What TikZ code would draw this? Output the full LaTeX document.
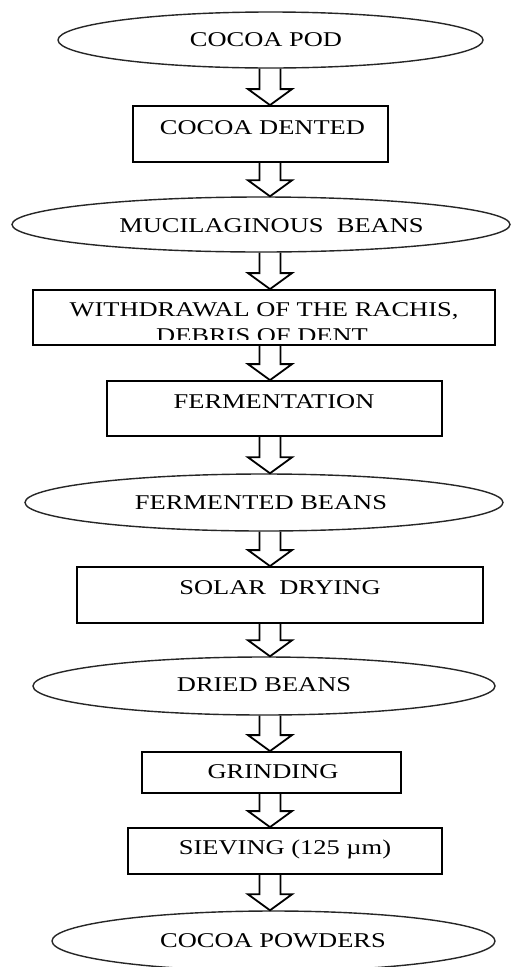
\documentclass[tikz,border=0pt]{standalone}
\usepackage{fontspec}
\setmainfont{Liberation Serif}
\usepackage{graphicx}
\usetikzlibrary{shapes.geometric,calc}
\newcommand\wtext[1]{\scalebox{1.26}[1]{#1}}
\newcommand\flowarrow[2]{\draw[arrowline] let \p1=(#1.south -| ax), \p2=(#2.north -| ax) in
  (\x1-10.5pt,\y1) -- (\x1-10.5pt,\y2+16pt) -- (\x1-22pt,\y2+16pt) -- (\x1,\y2)
  -- (\x1+22pt,\y2+16pt) -- (\x1+10.5pt,\y2+16pt) -- (\x1+10.5pt,\y1);}
\tikzset{
  stepbox/.style={rectangle, draw=black, line width=1.8pt, inner sep=0pt},
  oval/.style={ellipse, draw=black!85, line width=1.4pt, inner sep=0pt},
  txt/.style={anchor=base, inner sep=0pt, font=\fontsize{21}{25}\selectfont},
  arrowline/.style={draw=black, line width=1.8pt, line join=miter}
}
\begin{document}
\begin{tikzpicture}[x=1pt,y=-1pt]
\useasboundingbox (0,0) rectangle (512,967);
\fill[white] (0,0) rectangle (512,967);
\clip (0,0) rectangle (512,967);
\coordinate (ax) at (270,0);

% shapes
\node[oval, minimum width=425pt, minimum height=56pt] (pod) at (270.5,40) {};
\node[stepbox, minimum width=255pt, minimum height=56pt] (dented) at (260.5,134) {};
\node[oval, minimum width=498pt, minimum height=55pt] (mucil) at (261,224.5) {};
\node[stepbox, minimum width=462pt, minimum height=55pt] (withdraw) at (264,317.5) {};
\node[stepbox, minimum width=335pt, minimum height=55pt] (ferm) at (274.5,408.5) {};
\node[oval, minimum width=478pt, minimum height=57pt] (fbeans) at (264,502.5) {};
\node[stepbox, minimum width=406pt, minimum height=56pt] (solar) at (280,595) {};
\node[oval, minimum width=462pt, minimum height=58pt] (dried) at (264,686) {};
\node[stepbox, minimum width=259pt, minimum height=41pt] (grind) at (271.5,772.5) {};
\node[stepbox, minimum width=314pt, minimum height=46pt] (sieve) at (285,851) {};
\node[oval, minimum width=443pt, minimum height=60pt] (powders) at (273.5,941) {};

% texts
\node[txt] (tpod) at (266,46) {\wtext{COCOA POD}};
\node[txt] (tdented) at (262.5,134) {\wtext{COCOA DENTED}};
\node[txt] (tmucil) at (271.5,232) {\wtext{MUCILAGINOUS~ BEANS}};
\node[txt] (twd1) at (264,316) {\wtext{WITHDRAWAL OF THE RACHIS,}};
\begin{scope}
  \clip (0,300) rectangle (512,339);
  \node[txt] (twd2) at (262,342) {\wtext{DEBRIS OF DENT}};
\end{scope}
\node[txt] (tferm) at (274,408) {\wtext{FERMENTATION}};
\node[txt] (tfbeans) at (261,509.5) {\wtext{FERMENTED BEANS}};
\node[txt] (tsolar) at (280,594) {\wtext{SOLAR~ DRYING}};
\node[txt] (tdried) at (264,691.5) {\wtext{DRIED BEANS}};
\node[txt] (tgrind) at (273,778) {\wtext{GRINDING}};
\node[txt] (tsieve) at (285,854) {\wtext{SIEVING (125 µm)}};
\node[txt] (tpowders) at (273,947) {\wtext{COCOA POWDERS}};

% arrows
\flowarrow{pod}{dented}
\flowarrow{dented}{mucil}
\flowarrow{mucil}{withdraw}
\flowarrow{withdraw}{ferm}
\flowarrow{ferm}{fbeans}
\flowarrow{fbeans}{solar}
\flowarrow{solar}{dried}
\flowarrow{dried}{grind}
\flowarrow{grind}{sieve}
\flowarrow{sieve}{powders}
\end{tikzpicture}
\end{document}
